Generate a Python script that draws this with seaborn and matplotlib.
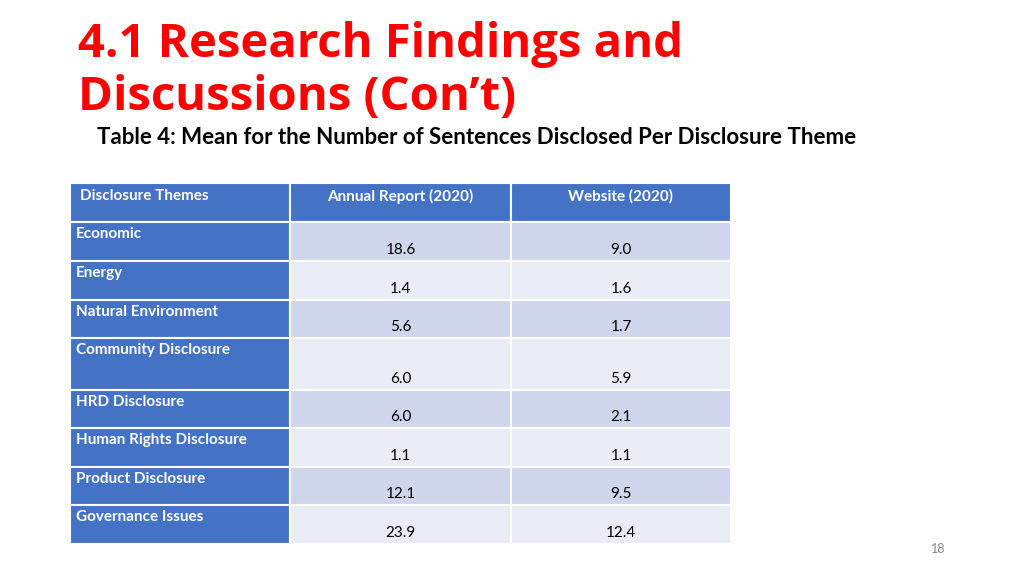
import matplotlib.pyplot as plt
import seaborn as sns

themes = ['Economic', 'Energy', 'Natural Environment', 'Community Disclosure',
          'HRD Disclosure', 'Human Rights Disclosure', 'Product Disclosure', 'Governance Issues']
annual = ['18.6', '1.4', '5.6', '6.0', '6.0', '1.1', '12.1', '23.9']
website = ['9.0', '1.6', '1.7', '5.9', '2.1', '1.1', '9.5', '12.4']
headers = ['Disclosure Themes', 'Annual Report (2020)', 'Website (2020)']

sns.set_theme(style='white')
plt.rcParams['font.family'] = ['Lato', 'DejaVu Sans']

fig = plt.figure(figsize=(10.24, 5.75), dpi=100)
ax = fig.add_axes([0, 0, 1, 1])
ax.set_xlim(0, 1024)
ax.set_ylim(575, 0)
ax.axis('off')

# layout in pixel units
col_edges = [70, 290, 511, 731]
row_edges = [183, 222, 261, 300, 338, 390, 428, 467, 505, 544]
blue = '#4472C4'
dark = '#CFD5EA'
light = '#E9EBF5'

def cell(c, r, color):
    x0, x1 = col_edges[c], col_edges[c + 1]
    y0, y1 = row_edges[r], row_edges[r + 1]
    ax.bar(x0, y1 - y0, width=x1 - x0, bottom=y0, align='edge',
           color=color, edgecolor='white', linewidth=1.5)

# header
for c, h in enumerate(headers):
    cell(c, 0, blue)
    if c == 0:
        ax.text(col_edges[0] + 10, 196, h, color='white', fontsize=11, fontweight='bold', va='center')
    else:
        ax.text((col_edges[c] + col_edges[c + 1]) / 2, 196, h, color='white',
                fontsize=11, fontweight='bold', ha='center', va='center')

for i, name in enumerate(themes):
    r = i + 1
    fill = dark if i % 2 == 0 else light
    cell(0, r, blue)
    cell(1, r, fill)
    cell(2, r, fill)
    top, bot = row_edges[r], row_edges[r + 1]
    ax.text(col_edges[0] + 6, top + 12, name, color='white', fontsize=11,
            fontweight='bold', va='center')
    for c, v in ((1, annual[i]), (2, website[i])):
        ax.text((col_edges[c] + col_edges[c + 1]) / 2, bot - 11, v, color='black',
                fontsize=11, ha='center', va='center')

ax.text(78, 45, '4.1 Research Findings and', color='#FF0000', fontsize=34,
        fontweight='bold', va='center', family=['Open Sans', 'DejaVu Sans'])
ax.text(78, 97, 'Discussions (Con\u2019t)', color='#FF0000', fontsize=34,
        fontweight='bold', va='center', family=['Open Sans', 'DejaVu Sans'])
ax.text(97, 137, 'Table 4: Mean for the Number of Sentences Disclosed Per Disclosure Theme',
        color='black', fontsize=16, fontweight='bold', va='center')
ax.text(938, 549, '18', color='#888888', fontsize=9, ha='center', va='center')

fig.savefig('out.png', dpi=100)
